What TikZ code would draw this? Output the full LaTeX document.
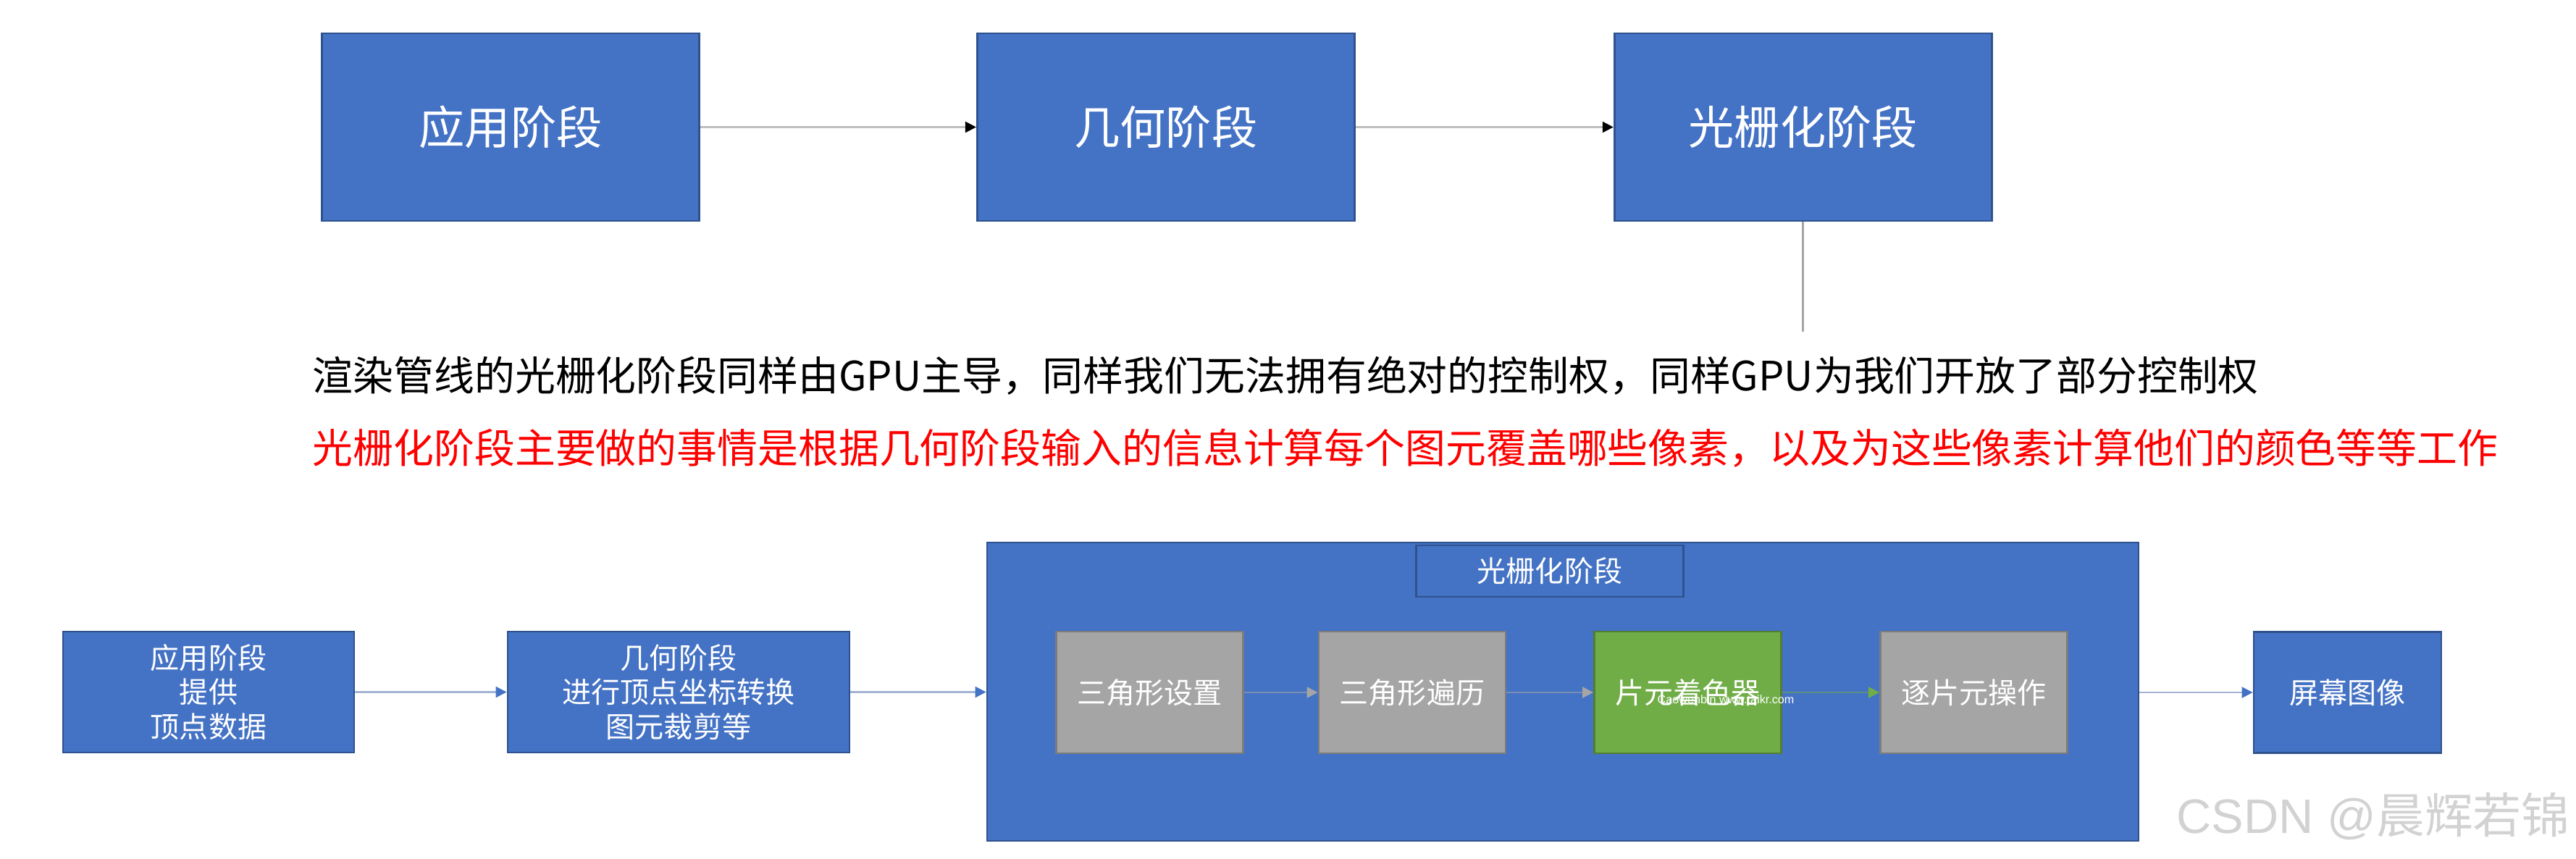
\documentclass[tikz,border=0pt]{standalone}
\usepackage{fontspec}
\setmainfont{Noto Sans CJK SC}
\newfontfamily\markfont{Liberation Sans}
\usetikzlibrary{positioning,arrows.meta}

\definecolor{boxBlue}{HTML}{4472C4}
\definecolor{boxLine}{HTML}{2F528F}
\definecolor{stepGray}{HTML}{A5A5A5}
\definecolor{stepGrayLine}{HTML}{7C7C7C}
\definecolor{stepGreen}{HTML}{70AD47}
\definecolor{stepGreenLine}{HTML}{507E32}
\definecolor{wireGray}{HTML}{BFBFBF}
\definecolor{wireBlue}{HTML}{A3B3D3}
\definecolor{noteRed}{HTML}{FF0000}

\begin{document}
\begin{tikzpicture}[x=1cm, y=-1cm,
stage/.style={rectangle, draw=boxLine, line width=0.8pt, fill=boxBlue, text=white, inner sep=0pt, minimum width=5.21cm, minimum height=2.59cm, font=\fontsize{18}{22}\selectfont} ,
phase/.style={stage, align=center, minimum height=1.67cm, font=\fontsize{11.4}{13.5}\selectfont} ,
substep/.style={phase, fill=stepGray, draw=stepGrayLine, minimum width=2.58cm, minimum height=1.68cm} ,
shaderStep/.style={substep, fill=stepGreen, draw=stepGreenLine} ,
note/.style={anchor=west, inner sep=0pt, font=\fontsize{15.9}{19}\selectfont} ,
topArrow/.style={draw=wireGray, line width=0.7pt, -{Triangle[length=1.5mm, width=1.5mm, color=black]}} ,
lowArrow/.style={draw=wireBlue, line width=0.7pt, -{Triangle[length=1.5mm, width=1.5mm, color=boxBlue]}} ,
innerArrow/.style={draw=stepGray!55!boxBlue, line width=0.7pt, -{Triangle[length=1.5mm, width=1.5mm, color=stepGray]}}
]
\useasboundingbox (0,0) rectangle (35.57,11.85);

% top row
\node (app) [stage] at (7.05,1.755) {应用阶段};
\node (geo) [stage, right=3.81cm of app] {几何阶段};
\node (rast) [stage, right=3.56cm of geo] {光栅化阶段};
\coordinate (rastTail) at ([yshift=-1.52cm]rast.south);

\draw [topArrow] (app) -- (geo);
\draw [topArrow] (geo) -- (rast);
\draw [draw=stepGray, line width=0.7pt] (rast.south) -- (rastTail);

% notes
\node (note) [note] at (4.31,5.19) {渲染管线的光栅化阶段同样由GPU主导，同样我们无法拥有绝对的控制权，同样GPU为我们开放了部分控制权};
\node (focus) [note, text=noteRed] at (4.31,6.19) {光栅化阶段主要做的事情是根据几何阶段输入的信息计算每个图元覆盖哪些像素，以及为这些像素计算他们的颜色等等工作};

% bottom row
\node (big) [stage, minimum width=15.9cm, minimum height=4.12cm] at (21.58,9.55) {};
\node (title) [phase, minimum width=3.69cm, minimum height=0.71cm] at (21.40,7.885) {光栅化阶段};

\node (src) [phase, minimum width=4.02cm] at (2.88,9.555) {应用阶段\\提供\\顶点数据};
\node (xform) [phase, minimum width=4.72cm] at (9.37,9.555) {几何阶段\\进行顶点坐标转换\\图元裁剪等};

\node (setup) [substep] at (15.875,9.56) {三角形设置};
\node (traverse) [substep] at (19.50,9.56) {三角形遍历};
\node (shader) [shaderStep] at (23.305,9.56) {片元着色器};
\node (perfrag) [substep] at (27.255,9.56) {逐片元操作};

\node (screen) [phase, minimum width=2.59cm] at (32.415,9.56) {屏幕图像};

\draw [lowArrow] (src) -- (xform);
\draw [lowArrow] (xform.east) -- (xform.east -| big.west);
\draw [innerArrow] (setup) -- (traverse);
\draw [innerArrow] (traverse) -- (shader);
\draw [innerArrow, draw=stepGreen!50!boxBlue, -{Triangle[length=1.5mm, width=1.5mm, color=stepGreen]}] (shader) -- (perfrag);
\draw [lowArrow] (big.east |- screen) -- (screen);

% watermarks
\node (stamp) [anchor=west, inner sep=0pt, text=white, font=\markfont\fontsize{4.6}{5}\selectfont] at (22.88,9.66) {Caowenbin www.taikr.com};
\node (csdn) [anchor=east, inner sep=0pt, text=gray!35, font=\fontsize{19}{23}\selectfont] at (35.49,11.27) {{\markfont CSDN @}晨辉若锦};
\end{tikzpicture}
\end{document}
